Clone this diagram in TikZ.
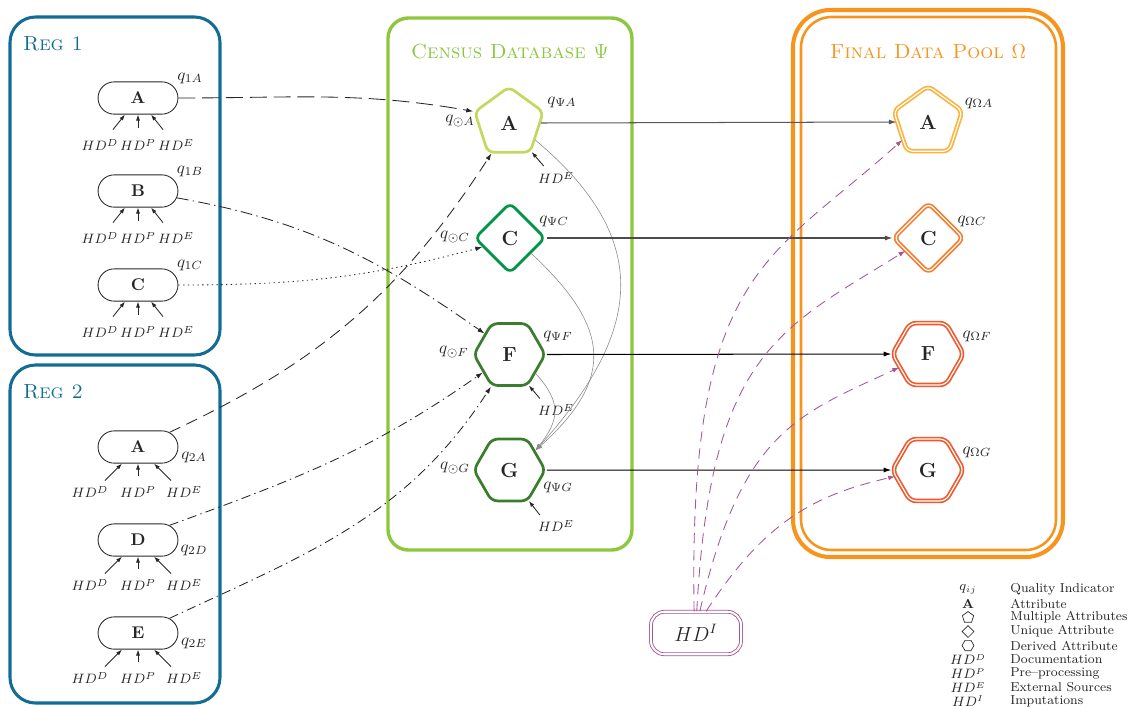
\documentclass[tikz,border=0pt]{standalone}
\usetikzlibrary{shapes.geometric,shapes.misc,arrows.meta,calc}
\definecolor{regblue}{RGB}{18,108,148}
\definecolor{cgreen}{RGB}{141,198,63}
\definecolor{cyel}{RGB}{196,216,96}
\definecolor{cdkgreen}{RGB}{0,150,72}
\definecolor{cforest}{RGB}{58,125,44}
\definecolor{forange}{RGB}{247,148,29}
\definecolor{fyel}{RGB}{251,180,60}
\definecolor{forg}{RGB}{242,128,50}
\definecolor{fred}{RGB}{238,90,45}
\definecolor{hdpurple}{RGB}{165,85,150}
\begin{document}
\begin{tikzpicture}[x=0.5882pt,y=-0.5882pt,
  every node/.style={text=black!85},
  regbox/.style={draw=regblue,line width=1.8pt,rounded corners=15pt},
  regtitle/.style={text=regblue,font=\large\scshape,anchor=west},
  attr/.style={rounded rectangle,draw=black!85,line width=0.5pt,minimum width=47pt,minimum height=19pt,inner sep=0pt,font=\bfseries},
  hd/.style={font=\footnotesize,inner sep=1pt},
  ql/.style={inner sep=0pt},
  tip/.style={-{Latex[length=3.5pt,width=2.4pt]},black!85,line width=0.5pt},
  multi/.style={regular polygon,regular polygon sides=5,minimum size=42.4pt},
  uniq/.style={regular polygon,regular polygon sides=4,regular polygon rotate=45,minimum size=41pt},
  deriv/.style={regular polygon,regular polygon sides=6,minimum size=42pt},
  cnode/.style={draw=#1,line width=1.6pt,rounded corners=3.5pt,inner sep=0pt,font=\large\bfseries},
  fnode/.style={draw=#1,double=white,double distance=0.7pt,line width=1pt,rounded corners=3.5pt,inner sep=0pt,font=\large\bfseries},
  conn/.style={black!85,line width=0.5pt,-{Latex[length=4pt,width=2.8pt]}},
  longdash/.style={conn,dash pattern=on 10pt off 4pt},
  middash/.style={conn,dash pattern=on 7pt off 4pt},
  longdashdot/.style={conn,dash pattern=on 7pt off 2.5pt on 0.8pt off 2.5pt},
  dashdot/.style={conn,dash pattern=on 5.5pt off 2.5pt on 0.8pt off 2.5pt},
  dots/.style={conn,dash pattern=on 0.8pt off 2pt},
  gcurve/.style={black!45,line width=0.35pt,-{Latex[length=4pt,width=2.8pt]}},
  harrow/.style={line width=0.6pt,-{Latex[length=4.5pt,width=3pt]}},
  parrow/.style={hdpurple,line width=0.5pt,dash pattern=on 6pt off 4pt,-{Latex[length=4pt,width=2.8pt]}},
  legtxt/.style={font=\fontsize{7.6}{9}\selectfont,anchor=west,inner sep=0pt},
  legsym/.style={font=\fontsize{7.6}{9}\selectfont,inner sep=0pt},
  legpoly/.style={draw=black!85,line width=0.4pt,inner sep=0pt,minimum size=7pt}
]
\useasboundingbox (0,0) rectangle (1129,708);

% ---------- Reg 1 ----------
\draw[regbox] (10,17) rectangle (220,355);
\node[regtitle] (reg1) at (17,44) {Reg 1};
\foreach \n/\l/\y in {r1A/A/98, r1B/B/191, r1C/C/285}{
  \node[attr] (\n) at (138,\y) {\l};
  \node[ql] (\n q) at (190,\y-20) {$q_{1\l}$};
  \node[hd] (\n d) at (100,\y+47) {$HD^D$};
  \node[hd] (\n p) at (138,\y+47) {$HD^P$};
  \node[hd] (\n e) at (176,\y+47) {$HD^E$};
  \draw[tip] ($(\n.south)+(-25,15)$) -- ($(\n.south)+(-13,0)$);
  \draw[tip] ($(\n.south)+(0,13)$) -- (\n.south);
  \draw[tip] ($(\n.south)+(25,15)$) -- ($(\n.south)+(13,0)$);
}

% ---------- Reg 2 ----------
\draw[regbox] (10,365) rectangle (220,703);
\node[regtitle] (reg2) at (17,392) {Reg 2};
\foreach \n/\l/\y in {r2A/A/447, r2D/D/540, r2E/E/633}{
  \node[attr] (\n) at (138,\y) {\l};
  \node[ql] (\n q) at (194,\y+10) {$q_{2\l}$};
  \node[hd] (\n d) at (90,\y+45) {$HD^D$};
  \node[hd] (\n p) at (138,\y+45) {$HD^P$};
  \node[hd] (\n e) at (184,\y+45) {$HD^E$};
  \draw[tip] ($(\n.south)+(-33,17)$) -- ($(\n.south)+(-16,0)$);
  \draw[tip] ($(\n.south)+(0,12)$) -- (\n.south);
  \draw[tip] ($(\n.south)+(33,17)$) -- ($(\n.south)+(16,0)$);
}

% ---------- Census Database ----------
\draw[draw=cgreen,line width=2pt,rounded corners=12pt] (388,18) rectangle (632,550);
\node[text=cgreen,font=\large\scshape] (ctitle) at (510,52) {Census Database $\Psi$};

\node[multi,cnode=cyel] (cA) at (509,123) {A};
\node[uniq,cnode=cdkgreen] (cC) at (510,238) {C};
\node[deriv,cnode=cforest] (cF) at (509.5,354.5) {F};
\node[deriv,cnode=cforest] (cG) at (509.5,470) {G};

\node[ql] (cAq) at (562,102) {$q_{\Psi A}$};
\node[ql] (cAo) at (460,121) {$q_{\odot A}$};
\node[ql] (cCq) at (554,221) {$q_{\Psi C}$};
\node[ql] (cCo) at (455,237) {$q_{\odot C}$};
\node[ql] (cFq) at (558,336) {$q_{\Psi F}$};
\node[ql] (cFo) at (454,352) {$q_{\odot F}$};
\node[ql] (cGq) at (558,487) {$q_{\Psi G}$};
\node[ql] (cGo) at (455,468) {$q_{\odot G}$};

\node[hd] (cAe) at (556,178) {$HD^E$};
\node[hd] (cFe) at (556,410) {$HD^E$};
\node[hd] (cGe) at (556,526) {$HD^E$};
\draw[tip] ($(cA.-52)+(12,14)$) -- (cA.-52);
\draw[tip] ($(cF.-58)+(11,13)$) -- (cF.-58);
\draw[tip] ($(cG.-58)+(11,14)$) -- (cG.-58);

% gray derivation curves
\draw[gcurve] (cA.-33) to[out=-40,in=48,looseness=1.3] (cG.37);
\draw[gcurve] (cC.-36) to[out=-43,in=42,looseness=1.4] (cG.37);
\draw[gcurve] (cF.-36) to[out=-48,in=52,looseness=1.3] (cG.37);

% ---------- Final Data Pool ----------
\draw[draw=forange,line width=2.4pt,rounded corners=22pt] (793,10) rectangle (1063,557);
\draw[draw=forange,line width=1.5pt,rounded corners=18pt] (801,17) rectangle (1056,550);
\node[text=forange,font=\large\scshape] (ftitle) at (928,52) {Final Data Pool $\Omega$};

\node[multi,fnode=fyel] (fA) at (928,122) {A};
\node[uniq,fnode=forg] (fC) at (928.5,238) {C};
\node[deriv,fnode=fred] (fF) at (928,354) {F};
\node[deriv,fnode=fred] (fG) at (928,470) {G};

\node[ql] (fAq) at (979,103) {$q_{\Omega A}$};
\node[ql] (fCq) at (972,221) {$q_{\Omega C}$};
\node[ql] (fFq) at (977,336) {$q_{\Omega F}$};
\node[ql] (fGq) at (977,452) {$q_{\Omega G}$};

\draw[harrow,black!65] (cA.east) -- (fA.west);
\draw[harrow,black!70] (cC.east) -- (fC.west);
\draw[harrow,black] (cF.east) -- (fF.west);
\draw[harrow,black] (cG.east) -- (fG.west);

% ---------- Registers to Census ----------
\draw[longdash] (r1A.east) to[out=0,in=170] (cA.162);
\draw[longdashdot] (r1B.-10) to[out=-10,in=145] (cF.140);
\draw[dots] (r1C.east) to[out=0,in=195] (cC.198);
\draw[middash] (r2A.25) to[out=25,in=237] (cA.240);
\draw[dashdot] (r2D.25) to[out=20,in=215] (cF.214);
\draw[dashdot] (r2E.25) to[out=25,in=237] (cF.240);

% ---------- Imputations ----------
\node[draw=hdpurple,double=white,double distance=1.2pt,line width=0.5pt,rounded corners=8pt,minimum width=53pt,minimum height=25pt,font=\large] (hdi) at (696,633) {$HD^I$};
\draw[parrow] (hdi.95) to[out=91,in=222,out looseness=1.7,in looseness=0.9] (fA.215);
\draw[parrow] (hdi.88) to[out=87,in=212,out looseness=1.6,in looseness=0.9] (fC.209);
\draw[parrow] (hdi.80) to[out=77,in=205,out looseness=1.5,in looseness=0.9] (fF.205);
\draw[parrow] (hdi.65) to[out=57,in=193,out looseness=1.2,in looseness=0.9] (fG.191);

% ---------- Legend ----------
\node[legsym] (l1) at (968,589.5) {$q_{ij}$};
\node[legtxt] (t1) at (1010,589.5) {Quality Indicator};
\node[legsym,font=\fontsize{7.6}{9}\selectfont\bfseries] (l2) at (968,603.5) {A};
\node[legtxt] (t2) at (1010,603.5) {Attribute};
\node[legpoly,regular polygon,regular polygon sides=5] (l3) at (968,617.5) {};
\node[legtxt] (t3) at (1010,617.5) {Multiple Attributes};
\node[legpoly,regular polygon,regular polygon sides=4,regular polygon rotate=45] (l4) at (968,631.5) {};
\node[legtxt] (t4) at (1010,631.5) {Unique Attribute};
\node[legpoly,regular polygon,regular polygon sides=6] (l5) at (968,645.5) {};
\node[legtxt] (t5) at (1010,645.5) {Derived Attribute};
\node[legsym] (l6) at (968,659.5) {$HD^D$};
\node[legtxt] (t6) at (1010,659.5) {Documentation};
\node[legsym] (l7) at (968,673.5) {$HD^P$};
\node[legtxt] (t7) at (1010,673.5) {Pre--processing};
\node[legsym] (l8) at (968,687.5) {$HD^E$};
\node[legtxt] (t8) at (1010,687.5) {External Sources};
\node[legsym] (l9) at (968,701) {$HD^I$};
\node[legtxt] (t9) at (1010,701) {Imputations};
\end{tikzpicture}
\end{document}
